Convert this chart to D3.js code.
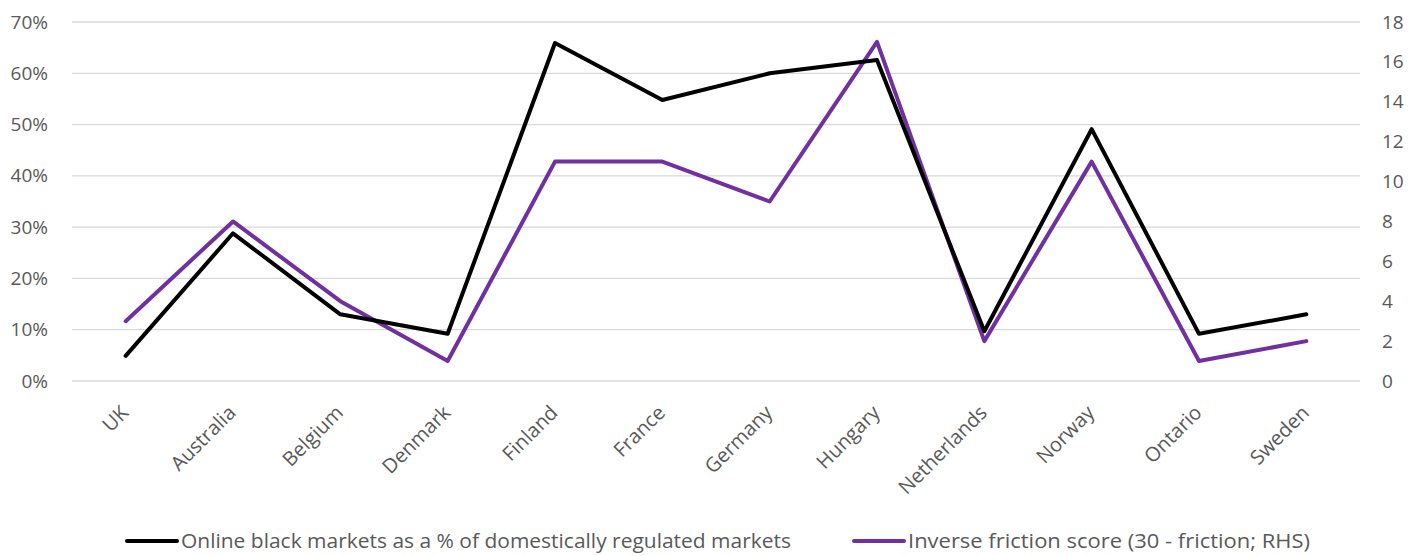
<!DOCTYPE html>
<html><head><meta charset="utf-8">
<script src="https://cdn.jsdelivr.net/npm/d3@7"></script>
<style>body{margin:0;background:#fff}svg{display:block}</style>
</head><body>
<script>
const categories = ["UK","Australia","Belgium","Denmark","Finland","France","Germany","Hungary","Netherlands","Norway","Ontario","Sweden"];
const blackMarketPct = [0.049,0.288,0.13,0.092,0.659,0.548,0.60,0.626,0.097,0.491,0.092,0.13];
const inverseFriction = [3,8,4,1,11,11,9,17,2,11,1,2];
const leftTicks = [0,0.1,0.2,0.3,0.4,0.5,0.6,0.7];
const rightTicks = [0,2,4,6,8,10,12,14,16,18];
const seriesNames = ["Online black markets as a % of domestically regulated markets","Inverse friction score (30 - friction; RHS)"];

const W=1423,H=556;
const font='"Open Sans", sans-serif';
const svg=d3.select("body").append("svg").attr("width",W).attr("height",H);
const x=d3.scaleBand().domain(categories).range([72,1360]);
const yL=d3.scaleLinear().domain([0,0.7]).range([381,22]);
const yR=d3.scaleLinear().domain([0,18]).range([381,22]);

svg.append("g").selectAll("line").data(leftTicks).join("line")
 .attr("x1",72).attr("x2",1360).attr("y1",d=>yL(d)).attr("y2",d=>yL(d))
 .attr("stroke","#d9d9d9").attr("stroke-width",1.3);

const gl=svg.append("g").attr("transform","translate(72,0)")
 .call(d3.axisLeft(yL).tickValues(leftTicks).tickFormat(d3.format(".0%")).tickSize(0).tickPadding(24));
const gr=svg.append("g").attr("transform","translate(1360,0)")
 .call(d3.axisRight(yR).tickValues(rightTicks).tickSize(0).tickPadding(22));
const gx=svg.append("g").attr("transform","translate(0,381)")
 .call(d3.axisBottom(x).tickSize(0).tickPadding(0));
[gl,gr,gx].forEach(g=>{g.select(".domain").remove();g.selectAll("text").attr("fill","#595959").style("font-family",font).style("font-size","19px");});
gx.selectAll("text").style("font-size","20px").attr("text-anchor","end").attr("dy",null).attr("y",0)
 .attr("transform","translate(4,33) rotate(-45)");

const line1=d3.line().x((d,i)=>x(categories[i])+x.bandwidth()/2).y(d=>yL(d));
const line2=d3.line().x((d,i)=>x(categories[i])+x.bandwidth()/2).y(d=>yR(d));
svg.append("path").attr("d",line2(inverseFriction)).attr("fill","none").attr("stroke","#7030a0").attr("stroke-width",4).attr("stroke-linejoin","round").attr("stroke-linecap","round");
svg.append("path").attr("d",line1(blackMarketPct)).attr("fill","none").attr("stroke","#000").attr("stroke-width",4).attr("stroke-linejoin","round").attr("stroke-linecap","round");

const leg=[{x:125,c:"#000",t:seriesNames[0],w:610},{x:852,c:"#7030a0",t:seriesNames[1],w:402}];
leg.forEach(l=>{
 svg.append("line").attr("x1",l.x+2).attr("x2",l.x+52).attr("y1",541).attr("y2",541).attr("stroke",l.c).attr("stroke-width",4).attr("stroke-linecap","round");
 svg.append("text").attr("x",l.x+56).attr("y",541).attr("dy","0.35em").attr("fill","#595959")
  .attr("textLength",l.w).attr("lengthAdjust","spacingAndGlyphs")
  .style("font-family",font).style("font-size","20px").text(l.t);
});
</script>
</body></html>
